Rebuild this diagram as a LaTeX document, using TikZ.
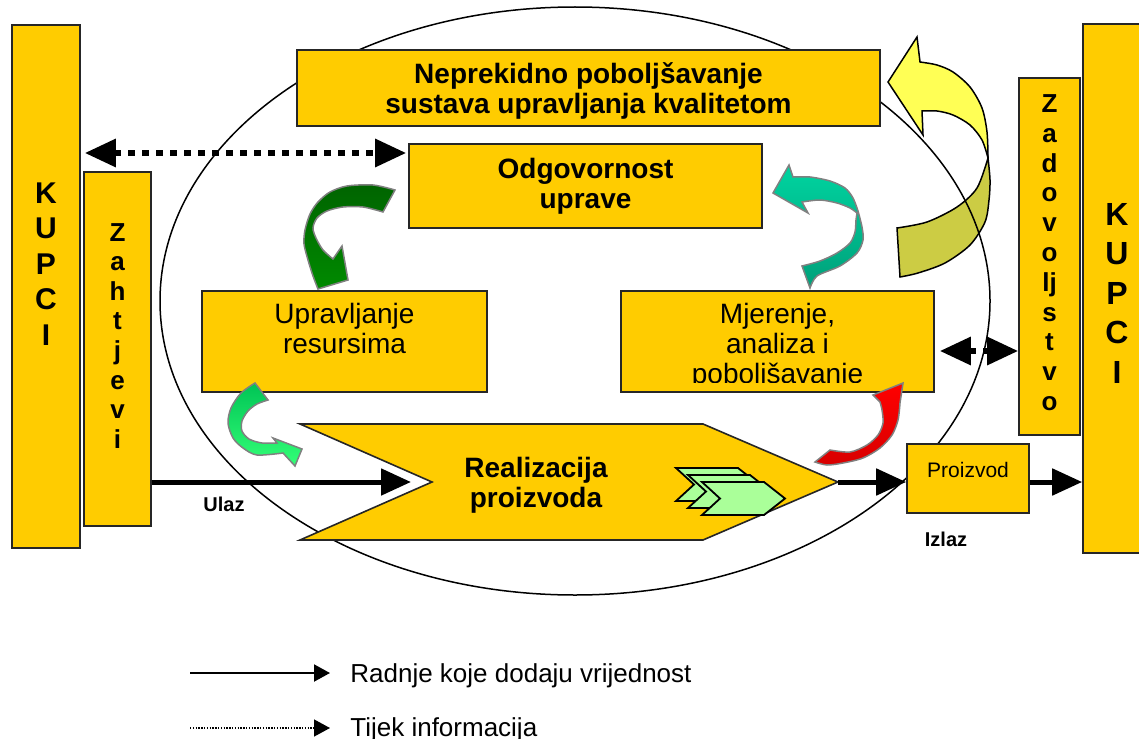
\documentclass[tikz,border=0pt]{standalone}
\usepackage{fontspec}
\setmainfont{Liberation Sans}
\usetikzlibrary{arrows.meta,calc}
\definecolor{boxY}{HTML}{FFCC00}
\definecolor{chevG}{HTML}{AAFF99}
\definecolor{dgTop}{HTML}{006400}
\definecolor{dgBot}{HTML}{008A00}
\definecolor{lgTop}{HTML}{00C455}
\definecolor{lgBot}{HTML}{33FF77}
\definecolor{tlTop}{HTML}{00D4A0}
\definecolor{tlBot}{HTML}{00A07A}
\definecolor{rdTop}{HTML}{FF0000}
\definecolor{rdBot}{HTML}{D80000}
\definecolor{ylA}{HTML}{FFFF55}
\definecolor{ylB}{HTML}{CCCC44}
\begin{document}
\begin{tikzpicture}[x=0.5pt,y=-0.5pt,
  box/.style={draw=black!85,line width=0.8pt,fill=boxY,inner sep=0pt},
  txt/.style={font=\fontsize{14}{15}\selectfont,align=center,inner sep=0pt},
  btxt/.style={font=\fontsize{14}{15}\selectfont\bfseries,align=center,inner sep=0pt},
  kupc/.style={font=\fontsize{15}{15}\selectfont\bfseries,inner sep=0pt,anchor=base},
  kupcR/.style={font=\fontsize{16}{16}\selectfont\bfseries,inner sep=0pt,anchor=base},
  vlet/.style={font=\fontsize{13}{13}\selectfont\bfseries,inner sep=0pt,anchor=base},
  small/.style={font=\fontsize{10}{10}\selectfont\bfseries,inner sep=0pt,anchor=base},
  flow/.style={line width=2.5pt,-{Triangle[length=15pt,width=13pt]}},
  info/.style={line width=3pt,dash pattern=on 3.5pt off 3.5pt,
    {Triangle[length=15.5pt,width=13.5pt]}-{Triangle[length=15.5pt,width=13.5pt]}},
  legflow/.style={line width=1pt,-{Triangle[length=8pt,width=8.5pt]}},
  legdot/.style={line width=0.7pt,dash pattern=on 0.7pt off 0.7pt,-{Triangle[length=8pt,width=8.5pt]}},
  legtxt/.style={font=\fontsize{13}{13}\selectfont,inner sep=0pt,anchor=base west},
  curv/.style={draw=black!50,line width=0.75pt},
  twist/.style={draw=black,line width=0.75pt}
]
\useasboundingbox (0,0) rectangle (1139,738);

% yellow / olive twisted arrow (behind the ellipse line)
\filldraw[twist,fill=ylB] (988,158) -- plot[smooth] coordinates {(988,158) (990,180) (989,200) (985,222) (970,245) (945,263) (918,273) (900,277)}
  -- (897,228) -- plot[smooth] coordinates {(897,228) (927,222) (957,207) (977,188) (988,158)} -- cycle;
\filldraw[twist,fill=ylA] (888,82) -- (917,37) -- (920,62) -- plot[smooth] coordinates {(920,62) (937,65) (953,72) (970,87) (982,108) (987,132) (988,158)}
  -- plot[smooth] coordinates {(988,158) (982,140) (970,125) (953,115) (937,111) (922,111)} -- (923,135) -- cycle;

% ellipse
\draw[line width=0.75pt] (575,301) ellipse [x radius=207.5pt, y radius=147pt];

% boxes
\node[box,minimum width=34pt,minimum height=261.5pt] (kupL) at (46,286.5) {};
\node[box,minimum width=33.5pt,minimum height=177pt] (zaht) at (117.5,349) {};
\node[box,minimum width=291.5pt,minimum height=38pt] (nep) at (588.5,88) {};
\node[box,minimum width=176.5pt,minimum height=42pt] (odg) at (585.5,186) {};
\node[box,minimum width=142.5pt,minimum height=50.5pt] (upr) at (344.5,341.5) {};
\node[box,minimum width=156.5pt,minimum height=50.5pt] (mje) at (777.5,341.5) {};
\node[box,minimum width=30.5pt,minimum height=178.5pt] (zad) at (1049.5,256.5) {};
\node[box,minimum width=34pt,minimum height=264.5pt] (kupR) at (1117,288.5) {};
\node[box,minimum width=61pt,minimum height=34.5pt] (proiz) at (968,478.5) {};

% chevron
\filldraw[box] (300,424) -- (703,424) -- (838,482) -- (703,540) -- (300,540) -- (432,482) -- cycle;
\coordinate (notch) at (432,482);
\coordinate (ctip) at (838,482);
\foreach \dx/\dy in {0/0,12/7,26/14}
  \filldraw[draw=black,line width=0.9pt,fill=chevG] ({676+\dx},{468+\dy}) -- ++(62,0) -- ++(21,16.5) -- ++(-21,16.5) -- ++(-62,0) -- ++(18,-16.5) -- cycle;

% texts
\node[btxt] (nepT) at (588.5,90.5) {Neprekidno poboljšavanje\\sustava upravljanja kvalitetom};
\node[btxt] (odgT) at (585.5,186) {Odgovornost\\uprave};
\node[txt] (uprT) at (344.5,328) {Upravljanje\\resursima};
\begin{scope}
  \clip (621,291) rectangle (934,382);
  \node[txt] (mjeT) at (777.5,346) {Mjerenje,\\analiza i\\poboljšavanje};
\end{scope}
\node[btxt] (realT) at (536,485) {Realizacija\\proizvoda};
\node[font=\fontsize{10.5}{10.5}\selectfont,inner sep=0pt] (proizT) at (968,469.5) {Proizvod};
\node[small] (ulaz) at (224,511) {Ulaz};
\node[small] (izlaz) at (946,546) {Izlaz};

\foreach \l [count=\i from 0] in {K,U,P,C,I}
  \node[kupc] (kl\i) at (46,{203+35.5*\i}) {\l};
\foreach \l [count=\i from 0] in {K,U,P,C,I}
  \node[kupcR] (kr\i) at (1117,{225+39.5*\i}) {\l};
\foreach \l [count=\i from 0] in {Z,a,h,t,j,e,v,i}
  \node[vlet] (zh\i) at (117.5,{241+29.6*\i}) {\l};
\foreach \l [count=\i from 0] in {Z,a,d,o,v,o,lj,s,t,v,o}
  \node[vlet] (zd\i) at (1049.5,{112.5+29.8*\i}) {\l};

% connectors
\coordinate (infoLevel) at (0,153);
\coordinate (fbLevel) at (0,351);
\draw[info,shorten <=2pt,shorten >=1pt] (kupL.east |- infoLevel) -- (odg.west |- infoLevel);
\draw[info,shorten <=2.5pt] (mje.east |- fbLevel) -- (zad.west |- fbLevel);
\draw[flow,shorten >=10.5pt] (zaht.east |- notch) -- (notch);
\draw[flow] (ctip) -- (ctip -| proiz.west);
\draw[flow] (ctip -| proiz.east) -- (ctip -| kupR.west);

% curved arrows
\shadedraw[curv,top color=dgTop,bottom color=dgBot] (395,190) -- plot[smooth] coordinates {(395,190) (373,185) (347,186) (330,192) (318,202) (310,214) (305,230) (304,244) (308,260) (313,276) (318,289)}
  -- (348,280) -- (342,246) -- (333,259) -- plot[smooth] coordinates {(333,259) (323,250) (316,238) (313,228) (317,218) (327,211) (343,207) (363,207) (383,212)} -- cycle;
\shadedraw[curv,top color=lgTop,bottom color=lgBot] (255,383) -- plot[smooth] coordinates {(255,383) (241,393) (231,408) (228,423) (233,438) (243,448) (257,455) (283,453)}
  -- (295,466) -- (302,449) -- (273,438) -- (277,443) -- plot[smooth] coordinates {(277,443) (262,443) (249,439) (242,431) (242,421) (248,411) (257,404) (268,400)} -- cycle;
\shadedraw[curv,top color=tlTop,bottom color=tlBot] (773,193) -- (789,165) -- (793,177)
  -- plot[smooth] coordinates {(793,177) (810,177) (830,181) (845,188) (853,198) (858,211)}
  -- plot[smooth] coordinates {(858,211) (862,227) (863,240) (857,253) (840,266) (817,276) (810,288)}
  -- (802,266) -- plot[smooth] coordinates {(802,266) (820,261) (837,253) (850,243) (855,232) (856,220) (857,213)}
  -- plot[smooth] coordinates {(857,213) (850,208) (837,203) (820,200) (802,202)} -- (808,213) -- cycle;
\shadedraw[curv,top color=rdTop,bottom color=rdBot] (815,462) -- plot[smooth] coordinates {(815,462) (827,465) (843,463) (863,458) (880,448) (892,435) (898,420) (900,403)}
  -- (903,383) -- (873,395) -- (880,402) -- plot[smooth] coordinates {(880,402) (882,410) (883,423) (878,435) (867,445) (850,452) (830,450)} -- cycle;

% legend
\node[legtxt] (leg1) at (350,682) {Radnje koje dodaju vrijednost};
\node[legtxt] (leg2) at (350,736) {Tijek informacija};
\coordinate (l1s) at (190,673);
\coordinate (l2s) at (190,728);
\draw[legflow,shorten >=10pt] (l1s) -- (l1s -| leg1.west);
\draw[legdot,shorten >=10pt] (l2s) -- (l2s -| leg2.west);
\end{tikzpicture}
\end{document}
